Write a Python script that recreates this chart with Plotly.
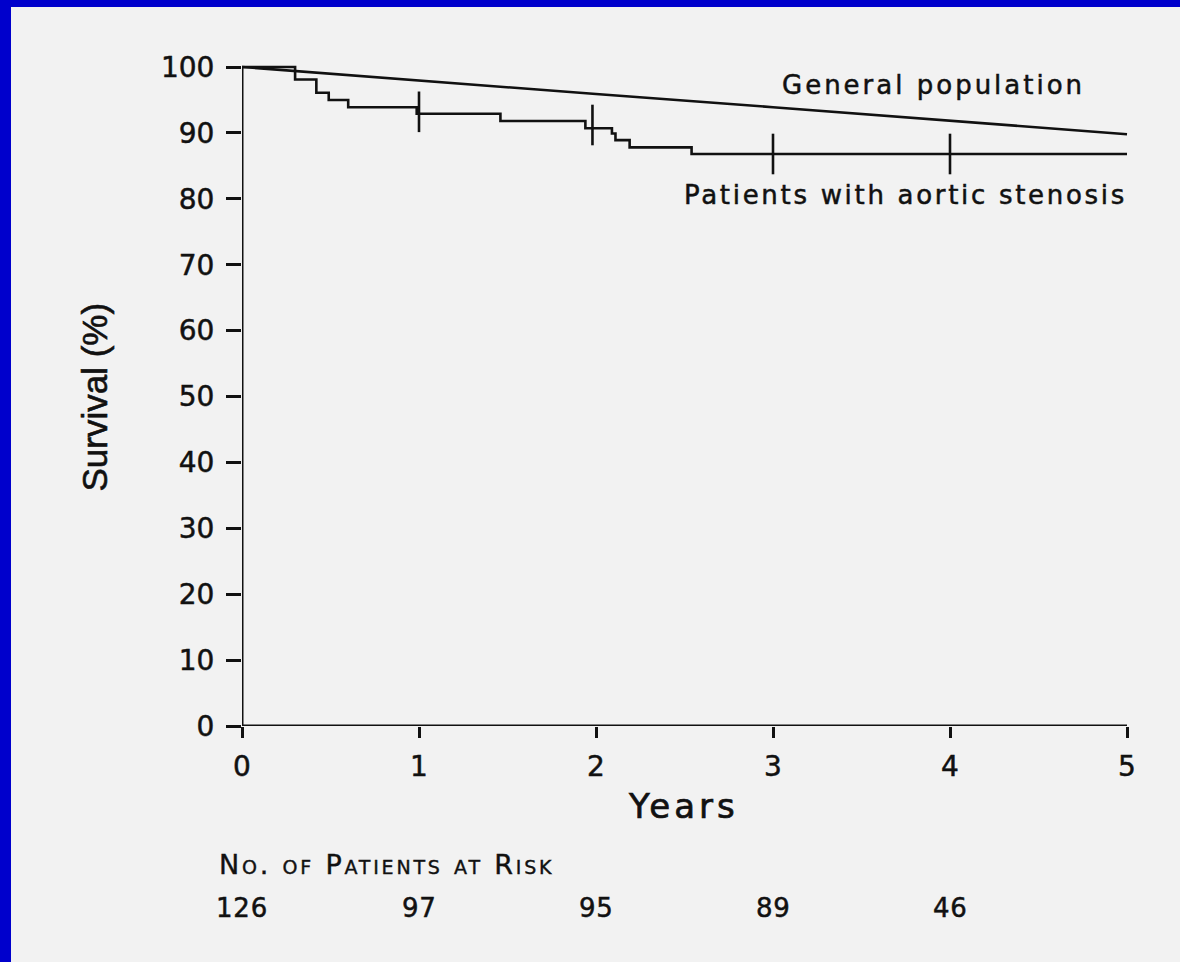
import plotly.graph_objects as go

# ---------------- data ----------------
km_times = [0, 0.30, 0.42, 0.49, 0.60, 0.987, 1.46, 1.94, 2.09, 2.11, 2.19, 2.54, 5.0]
km_surv = [100, 98.1, 96.1, 95.0, 93.9, 92.9, 91.8, 90.7, 89.9, 88.9, 87.8, 86.8, 86.8]

censor_times = [1.0, 1.98, 3.0, 4.0]
censor_surv = [93.2, 91.2, 86.8, 86.8]

gp_years = [0, 1, 2, 3, 4, 5]
gp_surv = [100, 97.9, 95.9, 93.9, 91.8, 89.8]

x_ticks = [0, 1, 2, 3, 4, 5]
y_ticks = [0, 10, 20, 30, 40, 50, 60, 70, 80, 90, 100]

risk_years = [0, 1, 2, 3, 4]
risk_n = [126, 97, 95, 89, 46]

# ---------------- layout geometry ----------------
W, H = 1180, 962
L, R, T, B = 242, 44, 57, 236
plotw = W - L - R
ploth = H - T - B
PX_PER_YEAR = 177.0
PX_PER_PCT = 6.59
xmax = plotw / PX_PER_YEAR
ymax = ploth / PX_PER_PCT


def pxp(x):
    return (x - L) / plotw


def pyp(y):
    return (H - B - y) / ploth


INK = "#111111"
TXT = "#111111"
FONT = "DejaVu Sans"


def heavy(s, spacing=0.0, stroke=0.5):
    style = "stroke:%s;stroke-width:%.2fpx;" % (TXT, stroke)
    if spacing:
        style += "letter-spacing:%.2fpx;" % spacing
    return '<span style="%s">%s</span>' % (style, s)


fig = go.Figure()

fig.add_trace(go.Scatter(x=gp_years, y=gp_surv, mode="lines",
                         line=dict(color=INK, width=2.6), showlegend=False,
                         hoverinfo="skip"))
fig.add_trace(go.Scatter(x=km_times, y=km_surv, mode="lines",
                         line=dict(color=INK, width=2.6, shape="hv"),
                         showlegend=False, hoverinfo="skip"))
fig.add_trace(go.Scatter(x=censor_times, y=censor_surv, mode="markers",
                         marker=dict(symbol="line-ns", size=29, color=INK,
                                     line=dict(width=2.6, color=INK)),
                         cliponaxis=False, showlegend=False, hoverinfo="skip"))

annotations = [
    dict(text=heavy("General population", 3),
         x=3.907, xref="x", y=pyp(85.3), yref="paper",
         xanchor="center", yanchor="middle", showarrow=False,
         font=dict(family=FONT, size=26, color=TXT)),
    dict(text=heavy("Patients with aortic stenosis", 2.7),
         x=3.748, xref="x", y=pyp(195.3), yref="paper",
         xanchor="center", yanchor="middle", showarrow=False,
         font=dict(family=FONT, size=26, color=TXT)),
    dict(text=heavy("Years", 4, 0.7),
         x=pxp(683), xref="paper", y=pyp(806), yref="paper",
         xanchor="center", yanchor="middle", showarrow=False,
         font=dict(family=FONT, size=34, color=TXT)),
    dict(text=heavy("Survival (%)", 0, 0.6), textangle=-90,
         x=pxp(94), xref="paper", y=pyp(397.5), yref="paper",
         xanchor="center", yanchor="middle", showarrow=False,
         font=dict(family="Liberation Sans", size=35, color=TXT)),
    dict(text=heavy("No. of Patients at Risk", 2.8, 0.4),
         x=pxp(217), xref="paper", y=pyp(864), yref="paper",
         xanchor="left", yanchor="middle", showarrow=False,
         font=dict(family=FONT, size=27, color=TXT, variant="small-caps")),
]
for yr, n in zip(risk_years, risk_n):
    annotations.append(dict(text=heavy(str(n), 0.8), x=yr, xref="x", y=pyp(907.5),
                            yref="paper", xanchor="center", yanchor="middle",
                            showarrow=False,
                            font=dict(family=FONT, size=26, color=TXT)))

shapes = [
    # grey page with blue left/top border (paper background is blue)
    dict(type="rect", xref="paper", yref="paper", layer="below",
         x0=pxp(11), x1=pxp(W + 5), y0=pyp(H + 5), y1=pyp(7),
         fillcolor="#f2f2f2", line=dict(width=0)),
    # axis lines
    dict(type="line", xref="x", yref="y", x0=0, x1=0, y0=0, y1=100,
         line=dict(color=INK, width=3), layer="above"),
    dict(type="line", xref="x", yref="y", x0=0, x1=5, y0=0, y1=0,
         line=dict(color=INK, width=3), layer="above"),
]

fig.update_layout(
    width=W, height=H,
    margin=dict(l=L, r=R, t=T, b=B, pad=0),
    paper_bgcolor="#0000CC",
    plot_bgcolor="rgba(0,0,0,0)",
    annotations=annotations,
    shapes=shapes,
    showlegend=False,
    xaxis=dict(range=[0, xmax], tickvals=x_ticks,
               ticktext=[heavy(str(v), 0) for v in x_ticks],
               showgrid=False, zeroline=False, showline=False,
               ticks="outside", ticklen=11, tickwidth=2.5, tickcolor=INK,
               tickfont=dict(family=FONT, size=28, color=TXT),
               ticklabelstandoff=4, fixedrange=True),
    yaxis=dict(range=[0, ymax], tickvals=y_ticks,
               ticktext=[heavy(str(v), 0) for v in y_ticks],
               showgrid=False, zeroline=False, showline=False,
               ticks="outside", ticklen=15, tickwidth=2.5, tickcolor=INK,
               tickfont=dict(family=FONT, size=28, color=TXT),
               ticklabelstandoff=6, fixedrange=True),
)

fig.write_html("out.html", config={"displayModeBar": False})
